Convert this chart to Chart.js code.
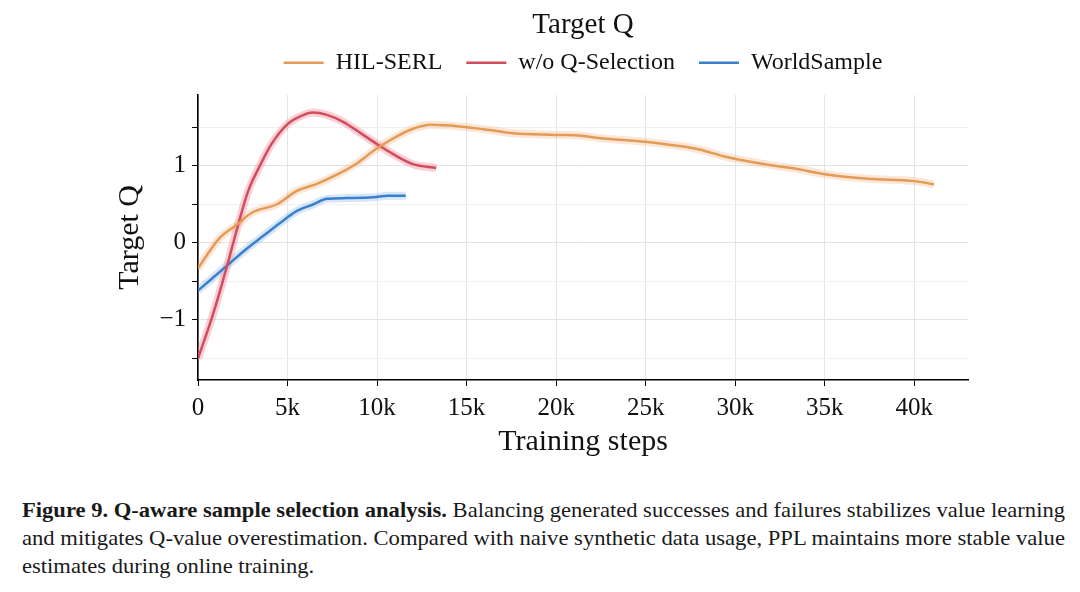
<!DOCTYPE html>
<html>
<head>
<meta charset="utf-8">
<script src="https://cdn.jsdelivr.net/npm/chart.js@4.4.1/dist/chart.umd.min.js"></script>
<style>
  html, body { margin: 0; padding: 0; background: #fff; }
  #wrap { position: relative; width: 1080px; height: 480px; }
  .caption {
    position: absolute; left: 22px; top: 496px;
    font-family: "Liberation Serif", "Times New Roman", serif;
    font-size: 21px; line-height: 28px; color: #1a1a1a; white-space: nowrap;
  }
  .caption div { transform-origin: 0 50%; width: max-content; }
</style>
</head>
<body>
<div id="wrap"><canvas id="qChart" width="1080" height="480"></canvas></div>
<div class="caption">
  <div><b>Figure 9. Q-aware sample selection analysis.</b> Balancing generated successes and failures stabilizes value learning</div>
  <div>and mitigates Q-value overestimation. Compared with naive synthetic data usage, PPL maintains more stable value</div>
  <div>estimates during online training.</div>
</div>
<script>
// series data (x = training steps, y = target Q)
const hilSteps = [0, 1200, 2200, 3000, 4400, 5500, 6700, 7800, 8800, 9900, 10800, 11900, 13000, 14600, 16400, 17600, 20000, 21400, 22400, 25000, 26400, 28000, 29400, 31400, 33400, 35000, 37400, 40000, 41100];
const hilQ = [-0.33, 0.06, 0.24, 0.39, 0.50, 0.67, 0.77, 0.89, 1.02, 1.21, 1.34, 1.47, 1.53, 1.51, 1.46, 1.42, 1.40, 1.39, 1.36, 1.31, 1.27, 1.21, 1.12, 1.03, 0.96, 0.89, 0.83, 0.80, 0.76];

const noSelSteps = [0, 850, 1600, 2250, 2800, 3500, 4100, 5000, 5900, 6400, 7200, 8100, 9100, 10000, 10900, 12000, 13300];
const noSelQ = [-1.50, -0.92, -0.32, 0.24, 0.67, 1.02, 1.28, 1.54, 1.66, 1.69, 1.66, 1.57, 1.42, 1.28, 1.15, 1.02, 0.97];

const worldSteps = [0, 850, 1800, 2700, 3650, 4600, 5500, 6450, 7200, 8300, 9800, 10600, 11600];
const worldQ = [-0.62, -0.45, -0.26, -0.08, 0.09, 0.26, 0.41, 0.50, 0.57, 0.58, 0.59, 0.61, 0.61];

const seriesNames = ['HIL-SERL', 'w/o Q-Selection', 'WorldSample'];
const xTicks = [0, 5000, 10000, 15000, 20000, 25000, 30000, 35000, 40000];
const yTicks = [-1.5, -1, -0.5, 0, 0.5, 1, 1.5];

const serif = '"Liberation Serif", "Times New Roman", serif';
const colors = ['#E39B57', '#D14D5D', '#3A80CC'];
const bands = ['rgba(240,170,110,0.28)', 'rgba(235,120,135,0.35)', 'rgba(100,160,225,0.25)'];

const toPoints = (xs, ys) => xs.map((x, i) => ({ x: x, y: ys[i] }));
const pointSets = [toPoints(hilSteps, hilQ), toPoints(noSelSteps, noSelQ), toPoints(worldSteps, worldQ)];

const datasets = [];
pointSets.forEach((pts, i) => {
  datasets.push({
    label: seriesNames[i],
    data: pts,
    borderColor: colors[i],
    backgroundColor: colors[i],
    borderWidth: 2.5,
    pointRadius: 0,
    cubicInterpolationMode: 'monotone',
    order: i + 1
  });
});
pointSets.forEach((pts, i) => {
  datasets.push({
    label: 'band',
    data: pts,
    borderColor: bands[i],
    borderWidth: 8,
    pointRadius: 0,
    cubicInterpolationMode: 'monotone',
    order: 10 + i
  });
});

// a little extra room under the legend
const legendGap = {
  id: 'legendGap',
  beforeInit(chart) {
    const fit = chart.legend.fit;
    chart.legend.fit = function () {
      fit.bind(chart.legend)();
      this.height += 10;
    };
  }
};

const qChart = new Chart(document.getElementById('qChart'), {
  type: 'line',
  data: { datasets: datasets },
  plugins: [legendGap],
  options: {
    responsive: false,
    animation: false,
    layout: { padding: { left: 100, right: 14, top: 0, bottom: 0 } },
    plugins: {
      title: {
        display: true,
        text: 'Target Q',
        color: '#111',
        font: { family: serif, size: 29, weight: 'normal' },
        padding: { top: 8, bottom: -16 }
      },
      legend: {
        labels: {
          filter: (item) => item.text !== 'band',
          usePointStyle: true,
          pointStyle: 'line',
          pointStyleWidth: 40,
          padding: 24,
          color: '#111',
          font: { family: serif, size: 24 }
        }
      },
      tooltip: { enabled: false }
    },
    scales: {
      x: {
        type: 'linear',
        min: 0,
        max: 43000,
        afterBuildTicks: (scale) => { scale.ticks = xTicks.map(v => ({ value: v })); },
        afterFit: (scale) => { scale.height = 100; },
        border: { color: '#000', width: 1.6 },
        grid: { color: '#e6e6e6', tickColor: '#000', tickLength: 6 },
        ticks: {
          maxRotation: 0,
          autoSkip: false,
          color: '#111',
          padding: 7,
          font: { family: serif, size: 25 },
          callback: (v) => v === 0 ? '0' : (v / 1000) + 'k'
        },
        title: {
          display: true,
          text: 'Training steps',
          color: '#111',
          font: { family: serif, size: 30 },
          padding: { top: 0, bottom: 20 }
        }
      },
      y: {
        min: -1.78,
        max: 1.92,
        afterBuildTicks: (scale) => { scale.ticks = yTicks.map(v => ({ value: v })); },
        afterFit: (scale) => { scale.width = 98; },
        border: { color: '#000', width: 1.6 },
        grid: {
          color: (ctx) => Number.isInteger(ctx.tick.value) ? '#e3e3e3' : '#f1f1f1',
          tickColor: '#000',
          tickLength: 6
        },
        ticks: {
          autoSkip: false,
          color: '#111',
          padding: 6,
          font: { family: serif, size: 25 },
          callback: (v) => Number.isInteger(v) ? (v < 0 ? '\u2212' + Math.abs(v) : String(v)) : ''
        },
        title: {
          display: true,
          text: 'Target Q',
          color: '#111',
          font: { family: serif, size: 30 },
          padding: { top: 12, bottom: 0 }
        }
      },
      yRight: {
        position: 'right',
        afterFit: (scale) => { scale.width = 98; },
        border: { display: false },
        grid: { display: false },
        ticks: { display: false }
      }
    }
  }
});

// fit caption lines to the reference line width
const captionLines = document.querySelectorAll('.caption div');
const captionScale = 1043 / captionLines[0].getBoundingClientRect().width;
const captionWidths = [1043, 1043, 0];
captionLines.forEach((el, i) => {
  const s = captionWidths[i] ? captionWidths[i] / el.getBoundingClientRect().width : captionScale;
  el.style.transform = 'scaleX(' + s + ')';
});
</script>
</body>
</html>
